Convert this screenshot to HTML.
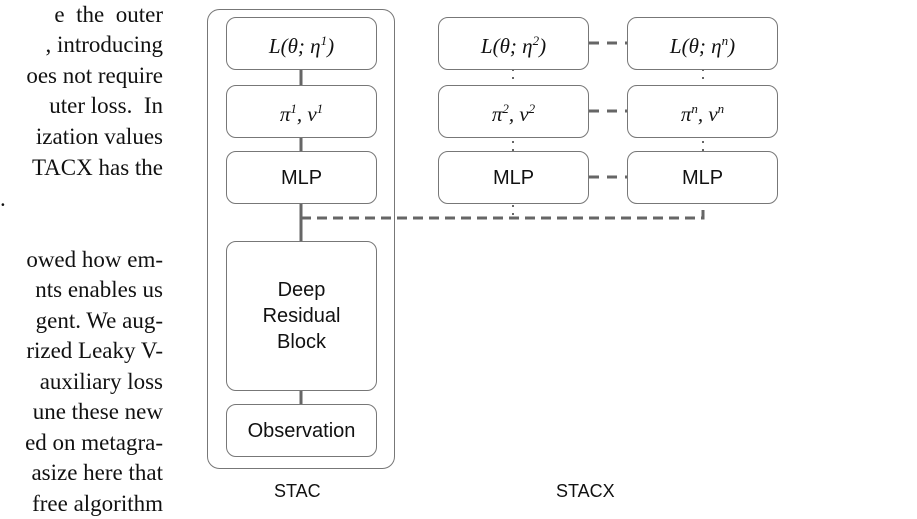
<!DOCTYPE html>
<html><head><meta charset="utf-8"><style>
body{margin:0;width:917px;height:519px;background:#fff;overflow:hidden;position:relative;font-family:"Liberation Sans",sans-serif}
.t{position:absolute;right:754px;font-family:"Liberation Serif",serif;font-size:23px;white-space:pre;line-height:30px;color:#111}
.b{position:absolute;border:1px solid #777;border-radius:10px;background:#fff;display:flex;align-items:center;justify-content:center;font-size:20px;color:#111;text-align:center;line-height:26px}
.m{font-family:"Liberation Serif",serif;font-style:italic;font-size:21px}
.m sup{font-size:13px;font-style:italic}
.lab{position:absolute;font-size:18px;color:#111}
</style></head><body>
<div class="t" style="top:0">e  the  outer</div>
<div class="t" style="top:30px">, introducing</div>
<div class="t" style="top:61px">oes not require</div>
<div class="t" style="top:91px">uter loss.  In</div>
<div class="t" style="top:122px">ization values</div>
<div class="t" style="top:153px">TACX has the</div>
<div class="t" style="top:184px;right:auto;left:0">.</div>
<div class="t" style="top:245px">owed how em-</div>
<div class="t" style="top:275px">nts enables us</div>
<div class="t" style="top:306px">gent. We aug-</div>
<div class="t" style="top:336px">rized Leaky V-</div>
<div class="t" style="top:367px">auxiliary loss</div>
<div class="t" style="top:397px">une these new</div>
<div class="t" style="top:428px">ed on metagra-</div>
<div class="t" style="top:458px">asize here that</div>
<div class="t" style="top:489px">free algorithm</div>

<svg style="position:absolute;left:0;top:0" width="917" height="519">
<rect x="207.5" y="9.5" width="187" height="459" rx="12" fill="none" stroke="#777"/>
<line x1="301" y1="69" x2="301" y2="404" stroke="#666" stroke-width="3"/>
<path d="M301 218 H703 V203" fill="none" stroke="#666" stroke-width="3" stroke-dasharray="10,6"/>
<line x1="513" y1="69" x2="513" y2="218" stroke="#666" stroke-width="2" stroke-dasharray="2,6"/>
<line x1="703" y1="69" x2="703" y2="203" stroke="#666" stroke-width="2" stroke-dasharray="2,6"/>
<g stroke="#666" stroke-width="3" stroke-dasharray="10,8">
<line x1="589" y1="43" x2="627" y2="43"/>
<line x1="589" y1="111" x2="627" y2="111"/>
<line x1="589" y1="177" x2="627" y2="177"/>
</g>
</svg>

<div class="b" style="left:226px;top:17px;width:149px;height:51px"><span class="m">L(θ; η<sup>1</sup>)</span></div>
<div class="b" style="left:226px;top:85px;width:149px;height:51px"><span class="m">π<sup>1</sup>, v<sup>1</sup></span></div>
<div class="b" style="left:226px;top:151px;width:149px;height:51px">MLP</div>
<div class="b" style="left:226px;top:241px;width:149px;height:148px">Deep<br>Residual<br>Block</div>
<div class="b" style="left:226px;top:404px;width:149px;height:51px">Observation</div>

<div class="b" style="left:438px;top:17px;width:149px;height:51px"><span class="m">L(θ; η<sup>2</sup>)</span></div>
<div class="b" style="left:438px;top:85px;width:149px;height:51px"><span class="m">π<sup>2</sup>, v<sup>2</sup></span></div>
<div class="b" style="left:438px;top:151px;width:149px;height:51px">MLP</div>
<div class="b" style="left:627px;top:17px;width:149px;height:51px"><span class="m">L(θ; η<sup>n</sup>)</span></div>
<div class="b" style="left:627px;top:85px;width:149px;height:51px"><span class="m">π<sup>n</sup>, v<sup>n</sup></span></div>
<div class="b" style="left:627px;top:151px;width:149px;height:51px">MLP</div>

<div class="lab" style="left:274px;top:481px">STAC</div>
<div class="lab" style="left:556px;top:481px">STACX</div>
</body></html>
